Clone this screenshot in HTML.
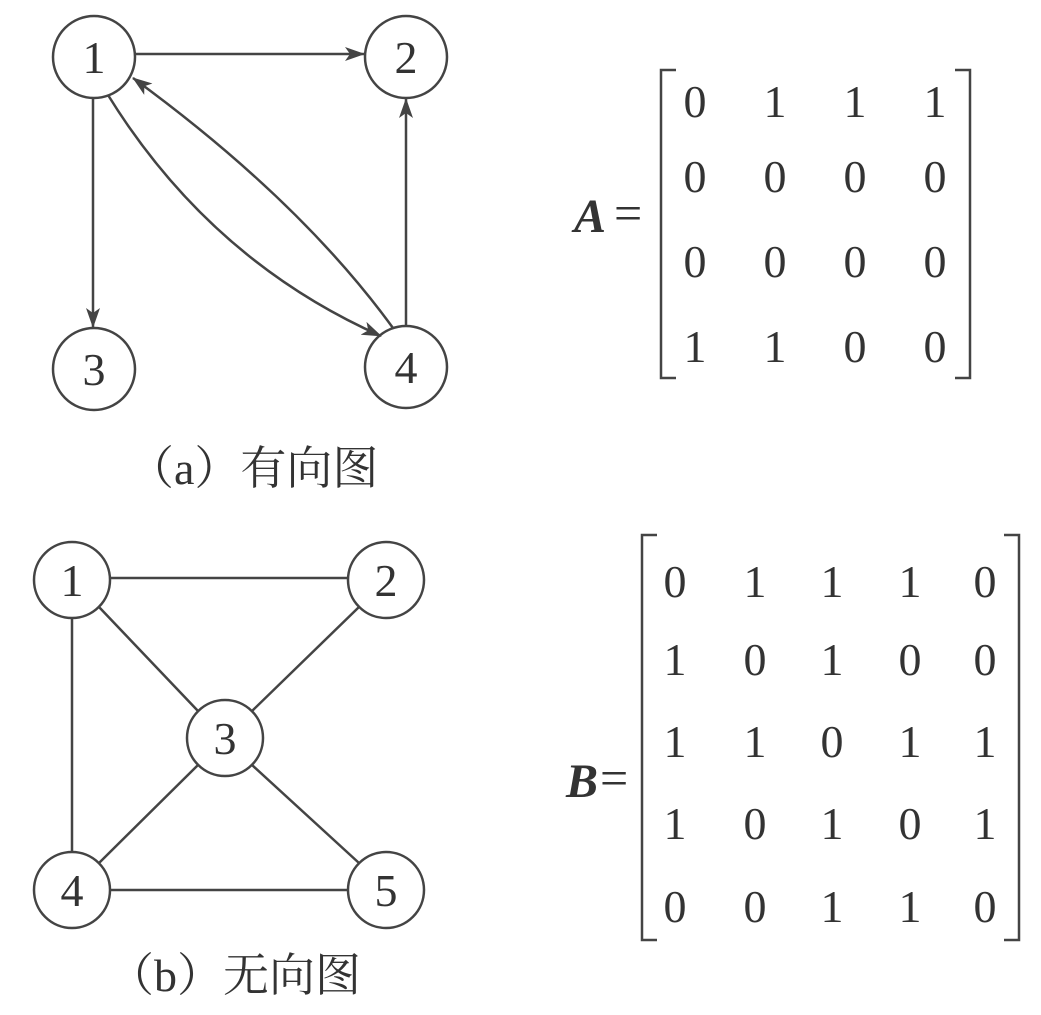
<!DOCTYPE html>
<html><head><meta charset="utf-8"><style>
html,body{margin:0;padding:0;background:#fff;}
svg{display:block;}
text{font-family:"Liberation Serif","Noto Serif CJK SC",serif;fill:#333;}
</style></head><body>
<svg width="1041" height="1015" viewBox="0 0 1041 1015" xmlns="http://www.w3.org/2000/svg">
<defs>
<marker id="a" viewBox="0 0 20 14" refX="19" refY="7" markerWidth="20" markerHeight="14" orient="auto" markerUnits="userSpaceOnUse">
<path d="M0,0 L20,7 L0,14 L5,7 Z" fill="#444"/>
</marker>
</defs>
<g stroke="#444" stroke-width="2.5" fill="none">
<circle cx="94" cy="57" r="41"/>
<circle cx="406" cy="57" r="41"/>
<circle cx="94" cy="369" r="41"/>
<circle cx="406" cy="367" r="41"/>
<line x1="135" y1="54" x2="364" y2="54" marker-end="url(#a)"/>
<line x1="93" y1="98" x2="93" y2="327" marker-end="url(#a)"/>
<line x1="406" y1="326" x2="406" y2="99" marker-end="url(#a)"/>
<path d="M108,95 Q210,260 381,336" marker-end="url(#a)"/>
<path d="M393,328 Q300,200 133,78" marker-end="url(#a)"/>
<circle cx="72" cy="580" r="38"/>
<circle cx="386" cy="580" r="38"/>
<circle cx="225" cy="738" r="38"/>
<circle cx="72" cy="890" r="38"/>
<circle cx="386" cy="890" r="38"/>
<line x1="110" y1="578" x2="348" y2="578"/>
<line x1="110" y1="890" x2="348" y2="890"/>
<line x1="72" y1="618" x2="72" y2="852"/>
<line x1="99" y1="607" x2="198" y2="711"/>
<line x1="359" y1="607" x2="252" y2="711"/>
<line x1="198" y1="765" x2="99" y2="863"/>
<line x1="252" y1="765" x2="359" y2="863"/>
<path d="M676,70 L661,70 L661,378 L676,378"/>
<path d="M955,70 L970,70 L970,378 L955,378"/>
<path d="M657,535 L642,535 L642,940 L657,940"/>
<path d="M1004,535 L1019,535 L1019,940 L1004,940"/>
</g>
<g font-size="46" text-anchor="middle">
<text x="94" y="73">1</text>
<text x="406" y="73">2</text>
<text x="94" y="385">3</text>
<text x="406" y="383">4</text>
<text x="72" y="596">1</text>
<text x="386" y="596">2</text>
<text x="225" y="754">3</text>
<text x="72" y="906">4</text>
<text x="386" y="906">5</text>
</g>
<text x="128" y="484" font-size="46">（a）有向图</text>
<text x="108" y="991" font-size="46">（b）无向图</text>
<text x="574" y="232" font-size="48" font-weight="bold" font-style="italic">A</text>
<text x="614" y="230" font-size="50">=</text>
<text x="566" y="797" font-size="48" font-weight="bold" font-style="italic">B</text>
<text x="600" y="795" font-size="50">=</text>
<g font-size="46" text-anchor="middle">
<text x="695" y="117">0</text><text x="775" y="117">1</text><text x="855" y="117">1</text><text x="935" y="117">1</text>
<text x="695" y="192">0</text><text x="775" y="192">0</text><text x="855" y="192">0</text><text x="935" y="192">0</text>
<text x="695" y="277">0</text><text x="775" y="277">0</text><text x="855" y="277">0</text><text x="935" y="277">0</text>
<text x="695" y="362">1</text><text x="775" y="362">1</text><text x="855" y="362">0</text><text x="935" y="362">0</text>
<text x="675" y="597">0</text><text x="755" y="597">1</text><text x="832" y="597">1</text><text x="910" y="597">1</text><text x="985" y="597">0</text>
<text x="675" y="675">1</text><text x="755" y="675">0</text><text x="832" y="675">1</text><text x="910" y="675">0</text><text x="985" y="675">0</text>
<text x="675" y="757">1</text><text x="755" y="757">1</text><text x="832" y="757">0</text><text x="910" y="757">1</text><text x="985" y="757">1</text>
<text x="675" y="839">1</text><text x="755" y="839">0</text><text x="832" y="839">1</text><text x="910" y="839">0</text><text x="985" y="839">1</text>
<text x="675" y="922">0</text><text x="755" y="922">0</text><text x="832" y="922">1</text><text x="910" y="922">1</text><text x="985" y="922">0</text>
</g>
</svg>
</body></html>
